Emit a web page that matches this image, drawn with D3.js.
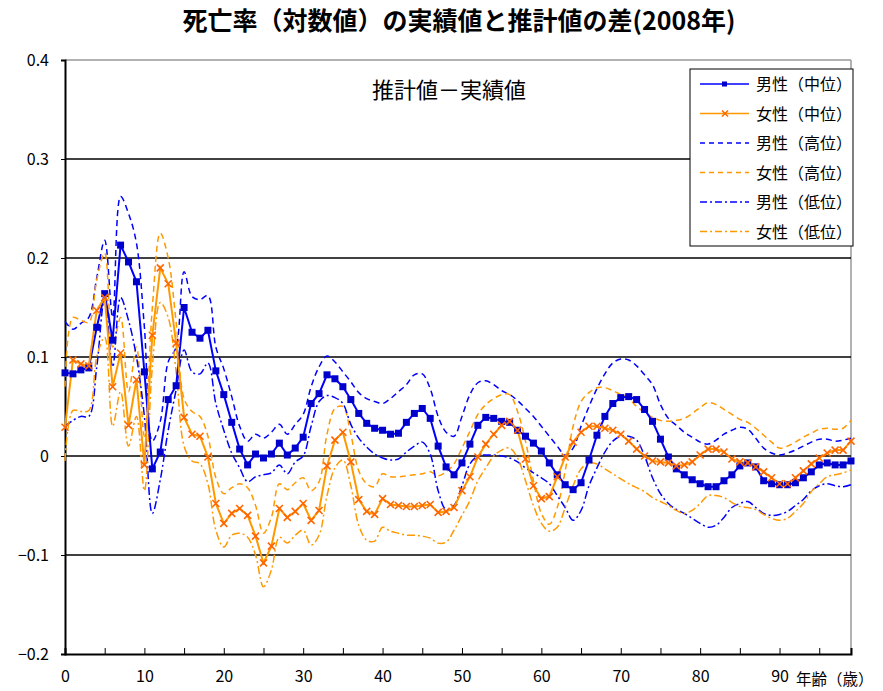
<!DOCTYPE html>
<html><head><meta charset="utf-8">
<script src="https://cdn.jsdelivr.net/npm/d3@7"></script>
<style>
body{margin:0;background:#fff;}
text{font-family:"Noto Sans CJK JP","Noto Sans",sans-serif;}
</style></head>
<body><svg id="c" width="883" height="691"></svg>
<script>
const ages = d3.range(0,100);
const maleMid = [0.084,0.083,0.087,0.089,0.130,0.164,0.117,0.213,0.196,0.176,
0.085,-0.013,0.004,0.057,0.071,0.150,0.125,0.119,0.127,0.086,
0.062,0.034,0.007,-0.009,0.002,-0.002,0.002,0.013,0.001,0.008,
0.019,0.053,0.063,0.082,0.078,0.070,0.057,0.043,0.033,0.028,
0.026,0.022,0.023,0.034,0.043,0.048,0.038,0.010,-0.011,-0.019,
-0.007,0.012,0.031,0.039,0.038,0.035,0.034,0.026,0.020,0.013,
0.005,-0.007,-0.019,-0.029,-0.034,-0.027,-0.004,0.021,0.040,0.053,
0.059,0.060,0.057,0.047,0.035,0.017,-0.001,-0.013,-0.019,-0.024,
-0.028,-0.031,-0.031,-0.025,-0.019,-0.010,-0.007,-0.011,-0.025,-0.028,
-0.029,-0.029,-0.027,-0.022,-0.016,-0.009,-0.007,-0.009,-0.009,-0.005];
const femaleMid = [0.029,0.097,0.093,0.091,0.147,0.160,0.070,0.104,0.031,0.077,
-0.009,0.122,0.190,0.174,0.114,0.039,0.022,0.020,-0.001,-0.048,
-0.068,-0.058,-0.053,-0.060,-0.081,-0.108,-0.091,-0.053,-0.062,-0.056,
-0.048,-0.065,-0.055,-0.010,0.016,0.024,-0.006,-0.044,-0.056,-0.059,
-0.043,-0.049,-0.050,-0.051,-0.051,-0.050,-0.049,-0.057,-0.056,-0.052,
-0.035,-0.021,-0.001,0.012,0.022,0.031,0.035,0.026,-0.003,-0.030,
-0.043,-0.041,-0.021,-0.001,0.014,0.024,0.030,0.030,0.028,0.026,
0.022,0.015,0.007,0.000,-0.005,-0.006,-0.007,-0.010,-0.009,-0.006,
0.001,0.007,0.007,0.004,-0.003,-0.006,-0.007,-0.011,-0.016,-0.022,
-0.028,-0.028,-0.022,-0.015,-0.008,-0.002,0.003,0.006,0.006,0.015];
const maleHigh = [0.136,0.128,0.134,0.140,0.180,0.218,0.140,0.262,0.245,0.215,
0.130,0.015,0.035,0.095,0.110,0.186,0.161,0.158,0.162,0.110,
0.088,0.060,0.030,0.015,0.022,0.018,0.024,0.032,0.022,0.032,
0.042,0.070,0.090,0.101,0.095,0.085,0.075,0.064,0.058,0.055,
0.053,0.058,0.065,0.072,0.082,0.083,0.068,0.040,0.024,0.020,
0.040,0.062,0.074,0.076,0.072,0.066,0.062,0.056,0.048,0.040,
0.030,0.020,0.010,0.001,0.008,0.030,0.050,0.068,0.083,0.094,
0.098,0.097,0.091,0.082,0.072,0.052,0.038,0.031,0.024,0.019,
0.014,0.012,0.016,0.022,0.026,0.029,0.027,0.018,0.008,0.003,
0.001,0.003,0.006,0.010,0.014,0.017,0.017,0.015,0.016,0.018];
const maleLow = [0.030,0.036,0.040,0.040,0.090,0.160,0.090,0.160,0.137,0.100,
0.040,-0.058,-0.024,0.026,0.067,0.107,0.085,0.083,0.094,0.053,
0.026,0.003,-0.012,-0.026,-0.021,-0.019,-0.017,-0.009,-0.018,-0.006,
0.000,0.030,0.055,0.061,0.059,0.053,0.032,0.018,0.009,0.002,
-0.002,-0.004,-0.003,0.004,0.010,0.014,0.002,-0.035,-0.054,-0.050,
-0.030,-0.008,0.000,0.001,0.001,0.000,-0.002,-0.006,-0.012,-0.017,
-0.022,-0.028,-0.040,-0.052,-0.065,-0.055,-0.030,-0.012,0.004,0.015,
0.020,0.020,0.016,0.000,-0.022,-0.038,-0.048,-0.054,-0.058,-0.063,
-0.068,-0.072,-0.070,-0.062,-0.052,-0.048,-0.046,-0.052,-0.058,-0.060,
-0.059,-0.056,-0.050,-0.044,-0.035,-0.030,-0.028,-0.030,-0.031,-0.029];
const femaleHigh = [0.070,0.140,0.137,0.135,0.178,0.205,0.110,0.140,0.065,0.110,
0.020,0.150,0.225,0.200,0.135,0.058,0.045,0.040,0.020,-0.022,
-0.038,-0.032,-0.028,-0.032,-0.050,-0.078,-0.062,-0.028,-0.034,-0.027,
-0.022,-0.035,-0.026,0.022,0.048,0.050,0.022,-0.015,-0.028,-0.031,
-0.018,-0.021,-0.021,-0.020,-0.019,-0.018,-0.016,-0.020,-0.016,-0.008,
0.008,0.025,0.042,0.052,0.058,0.062,0.062,0.045,0.015,-0.025,
-0.058,-0.069,-0.052,-0.015,0.030,0.055,0.064,0.069,0.069,0.066,
0.062,0.058,0.050,0.044,0.039,0.036,0.035,0.036,0.038,0.043,
0.049,0.054,0.052,0.047,0.042,0.037,0.034,0.028,0.021,0.014,
0.008,0.010,0.014,0.019,0.023,0.027,0.028,0.027,0.028,0.036];
const femaleLow = [-0.005,0.046,0.045,0.046,0.100,0.120,0.030,0.065,0.010,0.040,
-0.035,0.090,0.155,0.140,0.085,0.010,-0.005,-0.008,-0.028,-0.075,
-0.092,-0.080,-0.078,-0.082,-0.100,-0.132,-0.115,-0.082,-0.088,-0.080,
-0.075,-0.090,-0.080,-0.040,-0.012,-0.004,-0.030,-0.070,-0.085,-0.086,
-0.072,-0.076,-0.078,-0.080,-0.080,-0.081,-0.083,-0.088,-0.087,-0.075,
-0.060,-0.045,-0.025,-0.012,0.000,0.006,0.008,-0.002,-0.025,-0.050,
-0.068,-0.076,-0.072,-0.052,-0.030,-0.013,-0.007,-0.008,-0.013,-0.018,
-0.023,-0.028,-0.032,-0.036,-0.042,-0.046,-0.050,-0.055,-0.058,-0.055,
-0.048,-0.040,-0.040,-0.042,-0.047,-0.051,-0.052,-0.054,-0.059,-0.063,
-0.065,-0.063,-0.056,-0.048,-0.036,-0.028,-0.021,-0.019,-0.017,-0.014];
const yTicks = [0.4,0.3,0.2,0.1,0,-0.1,-0.2];
const xLabels = [0,10,20,30,40,50,60,70,80,90];
const legendLabels = ["男性（中位）","女性（中位）","男性（高位）","女性（高位）","男性（低位）","女性（低位）"];

const svg = d3.select("#c");
const x = d3.scaleLinear().domain([0,99]).range([65,851]);
const y = d3.scaleLinear().domain([-0.2,0.4]).range([654,60]);

const BLUE="#0000FF", ORANGE="#FF9900";

// title
svg.append("text").attr("x",459).attr("y",30).attr("text-anchor","middle")
  .attr("font-size",25).attr("font-weight","bold").attr("fill","#000")
  .text("死亡率（対数値）の実績値と推計値の差(2008年)");

// plot border (top/right grey)
svg.append("line").attr("x1",x(0)).attr("x2",x(99)).attr("y1",y(0.4)).attr("y2",y(0.4))
  .attr("stroke","#999").attr("stroke-width",1.5);
svg.append("line").attr("x1",x(99)).attr("x2",x(99)).attr("y1",y(0.4)).attr("y2",y(-0.2))
  .attr("stroke","#999").attr("stroke-width",1.5);

// gridlines
svg.append("g").selectAll("line").data([0.3,0.2,0.1,0,-0.1]).join("line")
  .attr("x1",x(0)).attr("x2",x(99)).attr("y1",d=>y(d)).attr("y2",d=>y(d))
  .attr("stroke","#000").attr("stroke-width",1.5);

// y axis
const yAx = svg.append("g").attr("transform",`translate(${x(0)},0)`)
  .call(d3.axisLeft(y).tickValues(yTicks).tickSize(4).tickPadding(12)
    .tickFormat(d=> d===0?"0":(d<0?"−"+Math.abs(d).toFixed(1):d.toFixed(1))));
yAx.select(".domain").attr("stroke","#000").attr("stroke-width",2);
yAx.selectAll("text").attr("font-size",16).attr("fill","#000")
  .style("font-family","'Liberation Sans Narrow','Noto Sans CJK JP',sans-serif");

// x axis
const xAx = svg.append("g").attr("transform",`translate(0,${y(-0.2)})`)
  .call(d3.axisBottom(x).tickValues(d3.range(0,100,5)).tickSize(-6).tickPadding(17)
    .tickFormat(d=> xLabels.includes(d)? String(d) : ""));
xAx.select(".domain").attr("stroke","#000").attr("stroke-width",2);
xAx.selectAll(".tick line").attr("stroke","#000");
xAx.selectAll("text").attr("font-size",16).attr("fill","#000")
  .style("font-family","'Liberation Sans Narrow','Noto Sans CJK JP',sans-serif");
svg.append("text").attr("x",796).attr("y",685).attr("font-size",15.5).attr("fill","#000")
  .text("年齢（歳）");

// annotation
svg.append("text").attr("x",449).attr("y",98).attr("text-anchor","middle")
  .attr("font-size",22).attr("fill","#000").text("推計値－実績値");

// lines
const smooth = d3.line().x((d,i)=>x(ages[i])).y(d=>y(d)).curve(d3.curveCatmullRom.alpha(0.5));
const straight = d3.line().x((d,i)=>x(ages[i])).y(d=>y(d));
const DASH="6,4", DASHDOT="8,3,2,3";
const series = [
  {v:maleHigh,c:BLUE,dash:DASH,w:1.5},
  {v:femaleHigh,c:ORANGE,dash:DASH,w:1.5},
  {v:maleLow,c:BLUE,dash:DASHDOT,w:1.5},
  {v:femaleLow,c:ORANGE,dash:DASHDOT,w:1.5}
];
series.forEach(s=>{
  svg.append("path").attr("d",smooth(s.v)).attr("fill","none")
    .attr("stroke",s.c).attr("stroke-width",s.w).attr("stroke-dasharray",s.dash);
});
svg.append("path").attr("d",straight(maleMid)).attr("fill","none").attr("stroke",BLUE).attr("stroke-width",2);
svg.append("path").attr("d",straight(femaleMid)).attr("fill","none").attr("stroke",ORANGE).attr("stroke-width",2);
svg.append("g").selectAll("rect").data(maleMid).join("rect")
  .attr("x",(d,i)=>x(ages[i])-3.5).attr("y",d=>y(d)-3.5).attr("width",7).attr("height",7)
  .attr("fill","#0000CC");
svg.append("g").selectAll("path").data(femaleMid).join("path")
  .attr("d",(d,i)=>{const cx=x(ages[i]), cy=y(d), r=3.5;
     return `M${cx-r},${cy-r}L${cx+r},${cy+r}M${cx-r},${cy+r}L${cx+r},${cy-r}`;})
  .attr("stroke","#FF6600").attr("stroke-width",1.6).attr("fill","none");

// legend
const lg = svg.append("g");
lg.append("rect").attr("x",690).attr("y",69).attr("width",163).attr("height",177)
  .attr("fill","#fff").attr("stroke","#000").attr("stroke-width",1);
const legendStyle = [
  {c:BLUE,dash:null,m:"sq",w:1.5},{c:ORANGE,dash:null,m:"x",w:1.5},
  {c:BLUE,dash:"5,4",w:1.5},{c:ORANGE,dash:"5,4",w:1.5},
  {c:BLUE,dash:"7,3,2,3",w:1.5},{c:ORANGE,dash:"7,3,2,3",w:1.5}];
legendLabels.forEach((t,i)=>{
  const yy = 84 + i*29.5, st = legendStyle[i];
  const ln = lg.append("line").attr("x1",700).attr("x2",749).attr("y1",yy).attr("y2",yy)
    .attr("stroke",st.c).attr("stroke-width",st.w);
  if(st.dash) ln.attr("stroke-dasharray",st.dash);
  if(st.m==="sq") lg.append("rect").attr("x",722).attr("y",yy-2.5).attr("width",5).attr("height",5).attr("fill","#0000CC");
  if(st.m==="x") lg.append("path").attr("d",`M722,${yy-3}L728,${yy+3}M722,${yy+3}L728,${yy-3}`).attr("stroke","#FF6600").attr("stroke-width",1.5);
  lg.append("text").attr("x",756).attr("y",yy+6).attr("font-size",16).attr("fill","#000").text(t);
});
</script></body></html>
